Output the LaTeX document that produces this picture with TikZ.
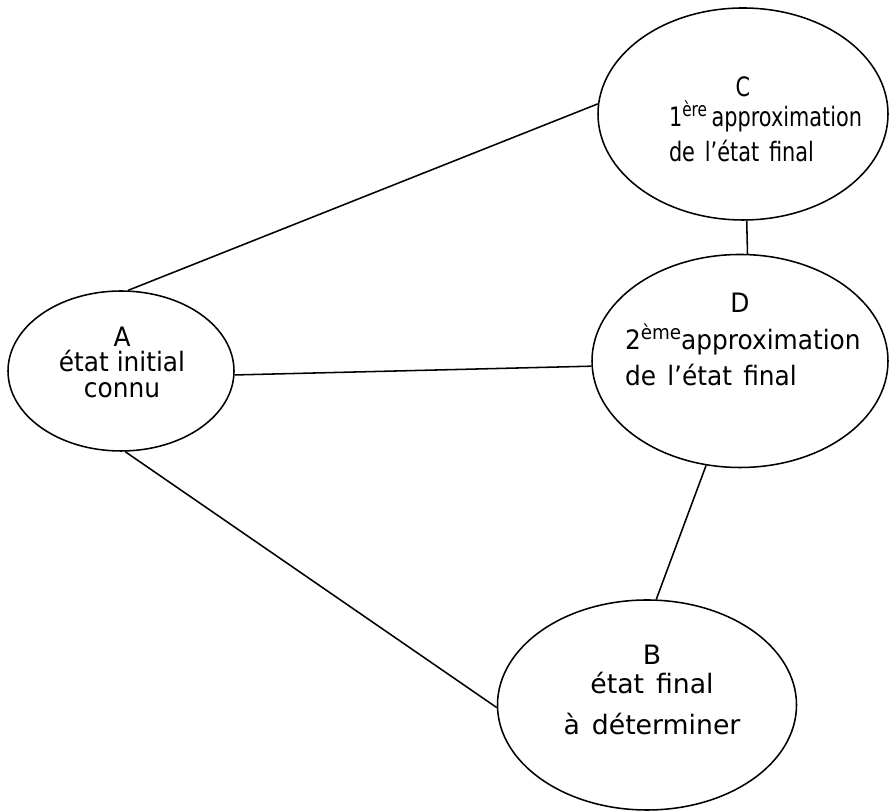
\documentclass[tikz,border=0pt]{standalone}
\usepackage{fontspec}
\setmainfont{DejaVu Sans}[FakeStretch=0.93]
\newfontfamily\lettreetroite{DejaVu Sans}[Ligatures=TeX, FakeStretch=0.78]
\newfontfamily\lettrelarge{DejaVu Sans}[Ligatures=TeX]
\usetikzlibrary{shapes.geometric}
\newcommand\expo[1]{\raisebox{7pt}{\fontsize{14}{14}\selectfont #1}}

\begin{document}
\begin{tikzpicture}[
    etat/.style={draw, ellipse, line width=1.1pt, inner sep=0pt},
    texte/.style={inner sep=0pt, anchor=north, font=\fontsize{19}{18}\selectfont},
    espace/.style={execute at begin node={\spaceskip=#1\relax}},
    lien/.style={line width=1.1pt}
]
\useasboundingbox (0,0) rectangle (22.225,20.3);

% ellipses
    \node[etat, minimum width=5.65cm, minimum height=4cm]     (A) at (3.025,11.025) {};
    \node[etat, minimum width=7.25cm, minimum height=5.3cm]   (C) at (18.575,17.45) {};
    \node[etat, minimum width=7.4cm, minimum height=5.325cm]  (D) at (18.5,11.275) {};
    \node[etat, minimum width=7.475cm, minimum height=5.25cm] (B) at (16.175,2.675) {};

% texts
    \node[texte, align=center] (At) at (3.05,12.13) {A\\état initial\\connu};
    \node[texte, align=left, text width=3.7cm, espace=7pt,
          font=\lettreetroite\fontsize{19}{18}\selectfont] (Ct) at (18.575,18.4)
        {\makebox[\hsize]{C}\\[2pt]\mbox{1\expo{ère}\,approximation}\\[4.8pt]\mbox{de l’état final}};
    \node[texte, align=left, text width=5.75cm, espace=8pt] (Dt) at (18.5,12.975)
        {\makebox[\hsize]{D}\\[7pt]\mbox{2\expo{ème}approximation}\\[5.5pt]\mbox{de l’état final}};
    \node[texte, align=center, espace=8.5pt,
          font=\lettrelarge\fontsize{19}{18}\selectfont] (Bt) at (16.3,4.175)
        {B\\[2.6pt]état final\\[11.2pt]à déterminer};

% links
    \draw[lien] (A.85)   -- (C.176);
    \draw[lien] (A.-2)   -- (D.182);
    \draw[lien] (A.-87)  -- (B.181);
    \draw[lien] (C.-88)  -- (D.86);
    \draw[lien] (D.-108) -- (B.85);

\end{tikzpicture}
\end{document}
